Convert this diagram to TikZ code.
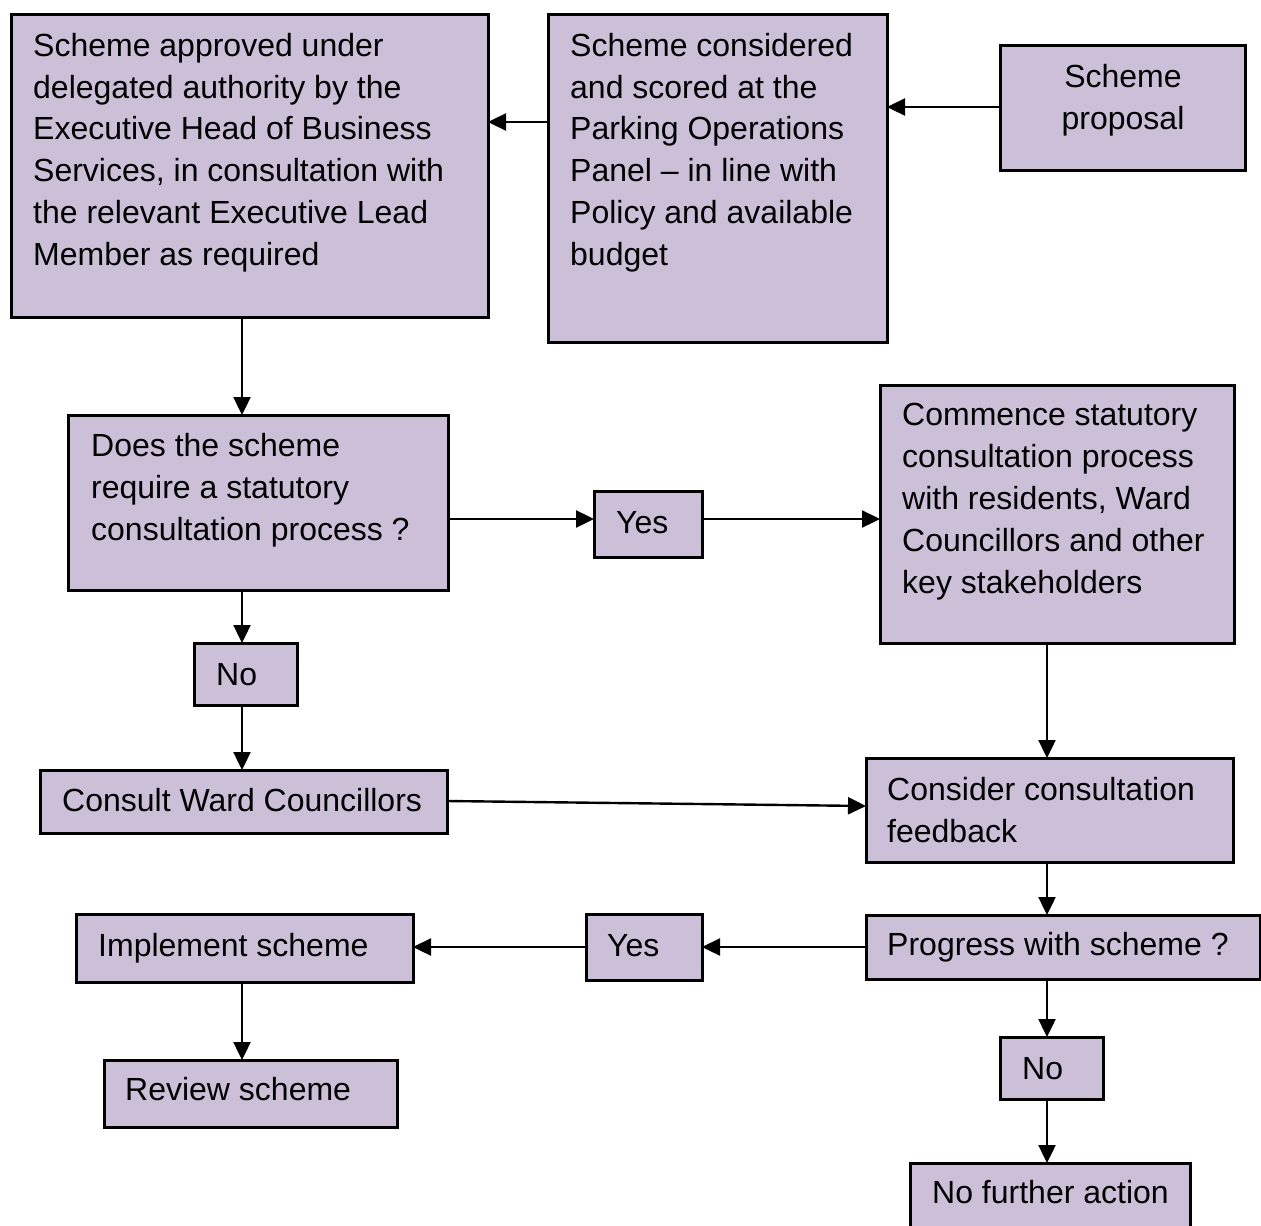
\documentclass[tikz,border=0pt]{standalone}
\usepackage{fontspec}
\setmainfont{Liberation Sans}
\usetikzlibrary{arrows.meta}
\definecolor{boxfill}{HTML}{CCC0D9}
\tikzset{
  box/.style={draw=black, line width=3pt, fill=boxfill, inner sep=0pt, outer sep=0pt, anchor=north west},
  txt/.style={inner sep=0pt, anchor=base west, font=\fontsize{32pt}{42pt}\selectfont},
  conn/.style={draw=black, line width=2.4pt, -{Triangle[length=18pt,width=17pt]}}
}
\newcommand{\bx}[5]{\node[box, minimum width=#4pt, minimum height=#5pt] (#1) at (#2,#3) {};}
\newcommand{\ls}[1]{\begin{tabular}[t]{@{}l@{}}#1\end{tabular}}
\begin{document}
\begin{tikzpicture}[x=1pt,y=-1pt]
\useasboundingbox (0,0) rectangle (1261,1226);
\clip (0,0) rectangle (1261,1226);
\fill[white] (0,0) rectangle (1261,1226);
% boxes
\bx{app}{11}{14}{477}{303}
\bx{cons}{548}{14}{339}{328}
\bx{prop}{1000}{45}{245}{125}
\bx{does}{68}{415}{380}{175}
\bx{yesa}{594}{491}{108}{66}
\bx{comm}{880}{385}{354}{258}
\bx{noa}{194}{643}{103}{62}
\bx{ward}{40}{770}{407}{63}
\bx{feed}{866}{758}{367}{104}
\bx{prog}{866}{915}{394}{64}
\bx{yesb}{586}{914}{116}{66}
\bx{impl}{76}{914}{337}{68}
\bx{rev}{104}{1060}{293}{67}
\bx{nob}{1000}{1037}{103}{62}
\bx{nfa}{910}{1163}{280}{90}
% texts
\node[txt] (t1) at (33,56) {\ls{Scheme approved under\\delegated authority by the\\Executive Head of Business\\Services, in consultation with\\the relevant Executive Lead\\Member as required}};
\node[txt] (t2) at (570,56) {\ls{Scheme considered\\and scored at the\\Parking Operations\\Panel -- in line with\\Policy and available\\budget}};
\node[txt, anchor=base] (t3) at (1123,87) {\begin{tabular}[t]{@{}c@{}}Scheme\\proposal\end{tabular}};
\node[txt] (t4) at (91,456) {\ls{Does the scheme\\require a statutory\\consultation process ?}};
\node[txt] (t5) at (616,533) {Yes};
\node[txt] (t6) at (902,425) {\ls{Commence statutory\\consultation process\\with residents, Ward\\Councillors and other\\key stakeholders}};
\node[txt] (t7) at (216,685) {No};
\node[txt] (t8) at (62,811) {Consult Ward Councillors};
\node[txt] (t9) at (887,800) {\ls{Consider consultation\\feedback}};
\node[txt] (t10) at (887,955) {Progress with scheme ?};
\node[txt] (t11) at (607,956) {Yes};
\node[txt] (t12) at (98,956) {Implement scheme};
\node[txt] (t13) at (125,1100) {Review scheme};
\node[txt] (t14) at (1022,1079) {No};
\node[txt] (t15) at (932,1203) {No further action};
% helper coordinates
\coordinate (xl) at (242,0);
\coordinate (xr) at (1047,0);
\coordinate (ya) at (0,107);
\coordinate (yb) at (0,122);
\coordinate (yc) at (0,519);
\coordinate (yd) at (0,801);
\coordinate (ye) at (0,806);
\coordinate (yf) at (0,947);
% connectors
\draw[conn] (prop.west |- ya) -- (cons.east |- ya);
\draw[conn] (cons.west |- yb) -- (app.east |- yb);
\draw[conn] (app.south -| xl) -- (does.north -| xl);
\draw[conn] (does.east |- yc) -- (yesa.west |- yc);
\draw[conn] (yesa.east |- yc) -- (comm.west |- yc);
\draw[conn] (does.south -| xl) -- (noa.north -| xl);
\draw[conn] (noa.south -| xl) -- (ward.north -| xl);
\draw[conn] (ward.east |- yd) -- (feed.west |- ye);
\draw[conn] (comm.south -| xr) -- (feed.north -| xr);
\draw[conn] (feed.south -| xr) -- (prog.north -| xr);
\draw[conn] (prog.west |- yf) -- (yesb.east |- yf);
\draw[conn] (yesb.west |- yf) -- (impl.east |- yf);
\draw[conn] (impl.south -| xl) -- (rev.north -| xl);
\draw[conn] (prog.south -| xr) -- (nob.north -| xr);
\draw[conn] (nob.south -| xr) -- (nfa.north -| xr);
\end{tikzpicture}
\end{document}
